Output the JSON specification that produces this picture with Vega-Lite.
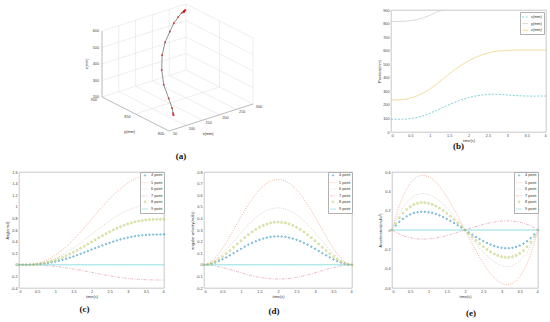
{
"$schema":"https://vega.github.io/schema/vega-lite/v6.json",
"padding":{"left":5,"top":3,"right":0,"bottom":0},
"background":"white",
"spacing":8,
"resolve":{"scale":{"color":"independent","shape":"independent","strokeDash":"independent","size":"independent"}},
"config":{
 "font":"Liberation Sans",
 "view":{"stroke":"#b0b0b0","strokeWidth":0.7},
 "axis":{"grid":false,"ticks":false,"domain":false,"labelFontSize":3.8,"labelColor":"#444","labelPadding":2,"titleFontSize":3.9,"titleFontWeight":"normal","titleColor":"#333","titlePadding":1},
 "axisX":{"labelPadding":1.5},
 "legend":{"labelFontSize":3.8,"labelColor":"#333","padding":1.5,"rowPadding":0.6,"strokeColor":"#b0b0b0","fillColor":"white","symbolStrokeWidth":0.8,"labelOffset":2.5,"symbolSize":36,"symbolType":"stroke","offset":0},
 "title":{"font":"Liberation Serif","fontSize":9,"fontWeight":"bold","color":"#111"}
},
"datasets":{
"pos":[
{"t":0,"x":94,"y":815,"z":236},{"t":0.2,"x":94,"y":816,"z":237},{"t":0.4,"x":96,"y":818,"z":243},{"t":0.6,"x":103,"y":825,"z":258},{"t":0.8,"x":117,"y":840,"z":283},{"t":1,"x":138,"y":860,"z":316},{"t":1.2,"x":162,"y":888,"z":358},{"t":1.4,"x":189,"y":905,"z":404},{"t":1.6,"x":214,"y":910,"z":450},{"t":1.8,"x":236,"y":912,"z":491},{"t":2,"x":254,"y":912,"z":525},{"t":2.2,"x":267,"y":912,"z":553},{"t":2.4,"x":275,"y":912,"z":574},{"t":2.6,"x":279,"y":912,"z":590},{"t":2.8,"x":278,"y":912,"z":599},{"t":3,"x":273,"y":912,"z":603},{"t":3.2,"x":269,"y":912,"z":604},{"t":3.4,"x":266,"y":912,"z":604},{"t":3.6,"x":265,"y":912,"z":604},{"t":3.8,"x":265,"y":912,"z":604},{"t":4,"x":265,"y":912,"z":604}
],
"traj3d":[
{"t":0,"x":94,"y":815,"z":236},{"t":0.2,"x":94,"y":816,"z":237},{"t":0.4,"x":96,"y":817,"z":243},{"t":0.6,"x":103,"y":822,"z":258},{"t":0.8,"x":117,"y":834,"z":283},{"t":1,"x":138,"y":852,"z":316},{"t":1.2,"x":162,"y":867,"z":358},{"t":1.4,"x":189,"y":880,"z":404},{"t":1.6,"x":214,"y":888,"z":450},{"t":1.8,"x":236,"y":892,"z":491},{"t":2,"x":254,"y":895,"z":525},{"t":2.2,"x":267,"y":895,"z":553},{"t":2.4,"x":275,"y":894,"z":574},{"t":2.6,"x":279,"y":892,"z":590},{"t":2.8,"x":278,"y":890,"z":599},{"t":3,"x":273,"y":888,"z":603},{"t":3.2,"x":269,"y":887,"z":604},{"t":3.4,"x":266,"y":886,"z":604},{"t":3.6,"x":265,"y":886,"z":604},{"t":3.8,"x":265,"y":886,"z":604},{"t":4,"x":265,"y":886,"z":604}
],
"box3d":[
{"k":"g","x1":100,"y1":800,"z1":200,"x2":100,"y2":900,"z2":200},
{"k":"g","x1":150,"y1":800,"z1":200,"x2":150,"y2":900,"z2":200},
{"k":"g","x1":200,"y1":800,"z1":200,"x2":200,"y2":900,"z2":200},
{"k":"g","x1":250,"y1":800,"z1":200,"x2":250,"y2":900,"z2":200},
{"k":"g","x1":300,"y1":800,"z1":200,"x2":300,"y2":900,"z2":200},
{"k":"g","x1":50,"y1":850,"z1":200,"x2":300,"y2":850,"z2":200},
{"k":"g","x1":50,"y1":900,"z1":200,"x2":300,"y2":900,"z2":200},
{"k":"g","x1":100,"y1":900,"z1":200,"x2":100,"y2":900,"z2":600},
{"k":"g","x1":150,"y1":900,"z1":200,"x2":150,"y2":900,"z2":600},
{"k":"g","x1":200,"y1":900,"z1":200,"x2":200,"y2":900,"z2":600},
{"k":"g","x1":250,"y1":900,"z1":200,"x2":250,"y2":900,"z2":600},
{"k":"g","x1":300,"y1":900,"z1":200,"x2":300,"y2":900,"z2":600},
{"k":"g","x1":50,"y1":900,"z1":300,"x2":300,"y2":900,"z2":300},
{"k":"g","x1":50,"y1":900,"z1":400,"x2":300,"y2":900,"z2":400},
{"k":"g","x1":50,"y1":900,"z1":500,"x2":300,"y2":900,"z2":500},
{"k":"g","x1":50,"y1":900,"z1":600,"x2":300,"y2":900,"z2":600},
{"k":"g","x1":300,"y1":800,"z1":200,"x2":300,"y2":800,"z2":600},
{"k":"g","x1":300,"y1":850,"z1":200,"x2":300,"y2":850,"z2":600},
{"k":"g","x1":300,"y1":800,"z1":300,"x2":300,"y2":900,"z2":300},
{"k":"g","x1":300,"y1":800,"z1":400,"x2":300,"y2":900,"z2":400},
{"k":"g","x1":300,"y1":800,"z1":500,"x2":300,"y2":900,"z2":500},
{"k":"g","x1":300,"y1":800,"z1":600,"x2":300,"y2":900,"z2":600},
{"k":"a","x1":50,"y1":800,"z1":200,"x2":300,"y2":800,"z2":200},
{"k":"a","x1":50,"y1":800,"z1":200,"x2":50,"y2":900,"z2":200},
{"k":"a","x1":50,"y1":900,"z1":200,"x2":50,"y2":900,"z2":600}
],
"labels3d":[
{"k":"lz","x1":50,"y1":900,"z1":200,"lab":"200"},
{"k":"lz","x1":50,"y1":900,"z1":300,"lab":"300"},
{"k":"lz","x1":50,"y1":900,"z1":400,"lab":"400"},
{"k":"lz","x1":50,"y1":900,"z1":500,"lab":"500"},
{"k":"lz","x1":50,"y1":900,"z1":600,"lab":"600"},
{"k":"ly","x1":50,"y1":800,"z1":200,"lab":"800"},
{"k":"ly","x1":50,"y1":850,"z1":200,"lab":"850"},
{"k":"ly","x1":50,"y1":900,"z1":200,"lab":"900"},
{"k":"lx","x1":50,"y1":800,"z1":200,"lab":"50"},
{"k":"lx","x1":100,"y1":800,"z1":200,"lab":"100"},
{"k":"lx","x1":150,"y1":800,"z1":200,"lab":"150"},
{"k":"lx","x1":200,"y1":800,"z1":200,"lab":"200"},
{"k":"lx","x1":250,"y1":800,"z1":200,"lab":"250"},
{"k":"lx","x1":300,"y1":800,"z1":200,"lab":"300"},
{"k":"tz","x1":50,"y1":900,"z1":400,"lab":"z(mm)"},
{"k":"ty","x1":50,"y1":850,"z1":200,"lab":"y(mm)"},
{"k":"tx","x1":175,"y1":800,"z1":200,"lab":"x(mm)"}
],
"joint":[
{"t":0,"a4":0,"a5":0,"a6":0,"a7":0,"a8":0,"a9":0,"v4":0,"v5":0,"v6":0,"v7":0,"v8":0,"v9":0,"c4":0,"c5":0,"c6":0,"c7":0,"c8":0,"c9":0},
{"t":0.1,"a4":0.0001,"a5":0.0002,"a6":0.0002,"a7":0,"a8":0.0001,"a9":0,"v4":0.0023,"v5":0.007,"v6":0.0047,"v7":-0.0012,"v8":0.0035,"v9":0,"c4":0.0455,"c5":0.1364,"c6":0.0909,"c7":-0.0227,"c8":0.0682,"c9":0},
{"t":0.2,"a4":0.0006,"a5":0.0018,"a6":0.0012,"a7":-0.0003,"a8":0.0009,"a9":0,"v4":0.0089,"v5":0.0266,"v6":0.0177,"v7":-0.0044,"v8":0.0133,"v9":0,"c4":0.0839,"c5":0.2518,"c6":0.1679,"c7":-0.042,"c8":0.1259,"c9":0},
{"t":0.3,"a4":0.002,"a5":0.0059,"a6":0.0039,"a7":-0.001,"a8":0.003,"a9":0,"v4":0.0189,"v5":0.0567,"v6":0.0378,"v7":-0.0095,"v8":0.0284,"v9":0,"c4":0.1158,"c5":0.3474,"c6":0.2316,"c7":-0.0579,"c8":0.1737,"c9":0},
{"t":0.4,"a4":0.0045,"a5":0.0134,"a6":0.009,"a7":-0.0022,"a8":0.0067,"a9":0,"v4":0.0318,"v5":0.0954,"v6":0.0636,"v7":-0.0159,"v8":0.0477,"v9":0,"c4":0.1414,"c5":0.4241,"c6":0.2827,"c7":-0.0707,"c8":0.2121,"c9":0},
{"t":0.5,"a4":0.0084,"a5":0.0252,"a6":0.0168,"a7":-0.0042,"a8":0.0126,"a9":0,"v4":0.047,"v5":0.1409,"v6":0.094,"v7":-0.0235,"v8":0.0705,"v9":0,"c4":0.1611,"c5":0.4832,"c6":0.3221,"c7":-0.0805,"c8":0.2416,"c9":0},
{"t":0.6,"a4":0.0139,"a5":0.0418,"a6":0.0279,"a7":-0.007,"a8":0.0209,"a9":0,"v4":0.0638,"v5":0.1915,"v6":0.1277,"v7":-0.0319,"v8":0.0958,"v9":0,"c4":0.1752,"c5":0.5257,"c6":0.3505,"c7":-0.0876,"c8":0.2629,"c9":0},
{"t":0.7,"a4":0.0212,"a5":0.0636,"a6":0.0424,"a7":-0.0106,"a8":0.0318,"a9":0,"v4":0.0819,"v5":0.2456,"v6":0.1637,"v7":-0.0409,"v8":0.1228,"v9":0,"c4":0.1843,"c5":0.5528,"c6":0.3685,"c7":-0.0921,"c8":0.2764,"c9":0},
{"t":0.8,"a4":0.0303,"a5":0.091,"a6":0.0607,"a7":-0.0152,"a8":0.0455,"a9":0,"v4":0.1005,"v5":0.3016,"v6":0.2011,"v7":-0.0503,"v8":0.1508,"v9":0,"c4":0.1885,"c5":0.5655,"c6":0.377,"c7":-0.0942,"c8":0.2827,"c9":0},
{"t":0.9,"a4":0.0413,"a5":0.124,"a6":0.0826,"a7":-0.0207,"a8":0.062,"a9":0,"v4":0.1194,"v5":0.3582,"v6":0.2388,"v7":-0.0597,"v8":0.1791,"v9":0,"c4":0.1883,"c5":0.5649,"c6":0.3766,"c7":-0.0942,"c8":0.2825,"c9":0},
{"t":1,"a4":0.0542,"a5":0.1626,"a6":0.1084,"a7":-0.0271,"a8":0.0813,"a9":0,"v4":0.1381,"v5":0.4142,"v6":0.2761,"v7":-0.069,"v8":0.2071,"v9":0,"c4":0.1841,"c5":0.5522,"c6":0.3682,"c7":-0.092,"c8":0.2761,"c9":0},
{"t":1.1,"a4":0.0689,"a5":0.2067,"a6":0.1378,"a7":-0.0345,"a8":0.1034,"a9":0,"v4":0.1561,"v5":0.4683,"v6":0.3122,"v7":-0.0781,"v8":0.2342,"v9":0,"c4":0.1762,"c5":0.5285,"c6":0.3523,"c7":-0.0881,"c8":0.2642,"c9":0},
{"t":1.2,"a4":0.0854,"a5":0.2562,"a6":0.1708,"a7":-0.0427,"a8":0.1281,"a9":0,"v4":0.1732,"v5":0.5195,"v6":0.3464,"v7":-0.0866,"v8":0.2598,"v9":0,"c4":0.1649,"c5":0.4948,"c6":0.3299,"c7":-0.0825,"c8":0.2474,"c9":0},
{"t":1.3,"a4":0.1035,"a5":0.3105,"a6":0.207,"a7":-0.0518,"a8":0.1553,"a9":0,"v4":0.189,"v5":0.567,"v6":0.378,"v7":-0.0945,"v8":0.2835,"v9":0,"c4":0.1508,"c5":0.4523,"c6":0.3015,"c7":-0.0754,"c8":0.2261,"c9":0},
{"t":1.4,"a4":0.1231,"a5":0.3694,"a6":0.2463,"a7":-0.0616,"a8":0.1847,"a9":0,"v4":0.2032,"v5":0.6097,"v6":0.4065,"v7":-0.1016,"v8":0.3049,"v9":0,"c4":0.134,"c5":0.402,"c6":0.268,"c7":-0.067,"c8":0.201,"c9":0},
{"t":1.5,"a4":0.1441,"a5":0.4323,"a6":0.2882,"a7":-0.072,"a8":0.2161,"a9":0,"v4":0.2157,"v5":0.6471,"v6":0.4314,"v7":-0.1079,"v8":0.3236,"v9":0,"c4":0.115,"c5":0.3451,"c6":0.2301,"c7":-0.0575,"c8":0.1726,"c9":0},
{"t":1.6,"a4":0.1662,"a5":0.4986,"a6":0.3324,"a7":-0.0831,"a8":0.2493,"a9":0,"v4":0.2262,"v5":0.6786,"v6":0.4524,"v7":-0.1131,"v8":0.3393,"v9":0,"c4":0.0942,"c5":0.2827,"c6":0.1885,"c7":-0.0471,"c8":0.1414,"c9":0},
{"t":1.7,"a4":0.1893,"a5":0.5678,"a6":0.3785,"a7":-0.0946,"a8":0.2839,"a9":0,"v4":0.2345,"v5":0.7036,"v6":0.469,"v7":-0.1173,"v8":0.3518,"v9":0,"c4":0.072,"c5":0.2159,"c6":0.144,"c7":-0.036,"c8":0.108,"c9":0},
{"t":1.8,"a4":0.213,"a5":0.6391,"a6":0.4261,"a7":-0.1065,"a8":0.3196,"a9":0,"v4":0.2406,"v5":0.7217,"v6":0.4811,"v7":-0.1203,"v8":0.3608,"v9":0,"c4":0.0486,"c5":0.1458,"c6":0.0972,"c7":-0.0243,"c8":0.0729,"c9":0},
{"t":1.9,"a4":0.2373,"a5":0.7119,"a6":0.4746,"a7":-0.1186,"a8":0.356,"a9":0,"v4":0.2442,"v5":0.7326,"v6":0.4884,"v7":-0.1221,"v8":0.3663,"v9":0,"c4":0.0245,"c5":0.0734,"c6":0.049,"c7":-0.0122,"c8":0.0367,"c9":0},
{"t":2,"a4":0.2618,"a5":0.7854,"a6":0.5236,"a7":-0.1309,"a8":0.3927,"a9":0,"v4":0.2454,"v5":0.7363,"v6":0.4909,"v7":-0.1227,"v8":0.3682,"v9":0,"c4":0,"c5":0,"c6":0,"c7":0,"c8":0,"c9":0},
{"t":2.1,"a4":0.2863,"a5":0.8589,"a6":0.5726,"a7":-0.1432,"a8":0.4294,"a9":0,"v4":0.2442,"v5":0.7326,"v6":0.4884,"v7":-0.1221,"v8":0.3663,"v9":0,"c4":-0.0245,"c5":-0.0734,"c6":-0.049,"c7":0.0122,"c8":-0.0367,"c9":0},
{"t":2.2,"a4":0.3106,"a5":0.9317,"a6":0.6211,"a7":-0.1553,"a8":0.4658,"a9":0,"v4":0.2406,"v5":0.7217,"v6":0.4811,"v7":-0.1203,"v8":0.3608,"v9":0,"c4":-0.0486,"c5":-0.1458,"c6":-0.0972,"c7":0.0243,"c8":-0.0729,"c9":0},
{"t":2.3,"a4":0.3343,"a5":1.003,"a6":0.6687,"a7":-0.1672,"a8":0.5015,"a9":0,"v4":0.2345,"v5":0.7036,"v6":0.469,"v7":-0.1173,"v8":0.3518,"v9":0,"c4":-0.072,"c5":-0.2159,"c6":-0.144,"c7":0.036,"c8":-0.108,"c9":0},
{"t":2.4,"a4":0.3574,"a5":1.0722,"a6":0.7148,"a7":-0.1787,"a8":0.5361,"a9":0,"v4":0.2262,"v5":0.6786,"v6":0.4524,"v7":-0.1131,"v8":0.3393,"v9":0,"c4":-0.0942,"c5":-0.2827,"c6":-0.1885,"c7":0.0471,"c8":-0.1414,"c9":0},
{"t":2.5,"a4":0.3795,"a5":1.1385,"a6":0.759,"a7":-0.1898,"a8":0.5693,"a9":0,"v4":0.2157,"v5":0.6471,"v6":0.4314,"v7":-0.1079,"v8":0.3236,"v9":0,"c4":-0.115,"c5":-0.3451,"c6":-0.2301,"c7":0.0575,"c8":-0.1726,"c9":0},
{"t":2.6,"a4":0.4005,"a5":1.2014,"a6":0.8009,"a7":-0.2002,"a8":0.6007,"a9":0,"v4":0.2032,"v5":0.6097,"v6":0.4065,"v7":-0.1016,"v8":0.3049,"v9":0,"c4":-0.134,"c5":-0.402,"c6":-0.268,"c7":0.067,"c8":-0.201,"c9":0},
{"t":2.7,"a4":0.4201,"a5":1.2603,"a6":0.8402,"a7":-0.21,"a8":0.6302,"a9":0,"v4":0.189,"v5":0.567,"v6":0.378,"v7":-0.0945,"v8":0.2835,"v9":0,"c4":-0.1508,"c5":-0.4523,"c6":-0.3015,"c7":0.0754,"c8":-0.2261,"c9":0},
{"t":2.8,"a4":0.4382,"a5":1.3146,"a6":0.8764,"a7":-0.2191,"a8":0.6573,"a9":0,"v4":0.1732,"v5":0.5195,"v6":0.3464,"v7":-0.0866,"v8":0.2598,"v9":0,"c4":-0.1649,"c5":-0.4948,"c6":-0.3299,"c7":0.0825,"c8":-0.2474,"c9":0},
{"t":2.9,"a4":0.4547,"a5":1.3641,"a6":0.9094,"a7":-0.2274,"a8":0.6821,"a9":0,"v4":0.1561,"v5":0.4683,"v6":0.3122,"v7":-0.0781,"v8":0.2342,"v9":0,"c4":-0.1762,"c5":-0.5285,"c6":-0.3523,"c7":0.0881,"c8":-0.2642,"c9":0},
{"t":3,"a4":0.4694,"a5":1.4082,"a6":0.9388,"a7":-0.2347,"a8":0.7041,"a9":0,"v4":0.1381,"v5":0.4142,"v6":0.2761,"v7":-0.069,"v8":0.2071,"v9":0,"c4":-0.1841,"c5":-0.5522,"c6":-0.3682,"c7":0.092,"c8":-0.2761,"c9":0},
{"t":3.1,"a4":0.4823,"a5":1.4468,"a6":0.9646,"a7":-0.2411,"a8":0.7234,"a9":0,"v4":0.1194,"v5":0.3582,"v6":0.2388,"v7":-0.0597,"v8":0.1791,"v9":0,"c4":-0.1883,"c5":-0.5649,"c6":-0.3766,"c7":0.0942,"c8":-0.2825,"c9":0},
{"t":3.2,"a4":0.4933,"a5":1.4798,"a6":0.9866,"a7":-0.2467,"a8":0.7399,"a9":0,"v4":0.1005,"v5":0.3016,"v6":0.2011,"v7":-0.0503,"v8":0.1508,"v9":0,"c4":-0.1885,"c5":-0.5655,"c6":-0.377,"c7":0.0942,"c8":-0.2827,"c9":0},
{"t":3.3,"a4":0.5024,"a5":1.5072,"a6":1.0048,"a7":-0.2512,"a8":0.7536,"a9":0,"v4":0.0819,"v5":0.2456,"v6":0.1637,"v7":-0.0409,"v8":0.1228,"v9":0,"c4":-0.1843,"c5":-0.5528,"c6":-0.3685,"c7":0.0921,"c8":-0.2764,"c9":0},
{"t":3.4,"a4":0.5097,"a5":1.529,"a6":1.0194,"a7":-0.2548,"a8":0.7645,"a9":0,"v4":0.0638,"v5":0.1915,"v6":0.1277,"v7":-0.0319,"v8":0.0958,"v9":0,"c4":-0.1752,"c5":-0.5257,"c6":-0.3505,"c7":0.0876,"c8":-0.2629,"c9":0},
{"t":3.5,"a4":0.5152,"a5":1.5456,"a6":1.0304,"a7":-0.2576,"a8":0.7728,"a9":0,"v4":0.047,"v5":0.1409,"v6":0.094,"v7":-0.0235,"v8":0.0705,"v9":0,"c4":-0.1611,"c5":-0.4832,"c6":-0.3221,"c7":0.0805,"c8":-0.2416,"c9":0},
{"t":3.6,"a4":0.5191,"a5":1.5573,"a6":1.0382,"a7":-0.2596,"a8":0.7787,"a9":0,"v4":0.0318,"v5":0.0954,"v6":0.0636,"v7":-0.0159,"v8":0.0477,"v9":0,"c4":-0.1414,"c5":-0.4241,"c6":-0.2827,"c7":0.0707,"c8":-0.2121,"c9":0},
{"t":3.7,"a4":0.5216,"a5":1.5648,"a6":1.0432,"a7":-0.2608,"a8":0.7824,"a9":0,"v4":0.0189,"v5":0.0567,"v6":0.0378,"v7":-0.0095,"v8":0.0284,"v9":0,"c4":-0.1158,"c5":-0.3474,"c6":-0.2316,"c7":0.0579,"c8":-0.1737,"c9":0},
{"t":3.8,"a4":0.523,"a5":1.569,"a6":1.046,"a7":-0.2615,"a8":0.7845,"a9":0,"v4":0.0089,"v5":0.0266,"v6":0.0177,"v7":-0.0044,"v8":0.0133,"v9":0,"c4":-0.0839,"c5":-0.2518,"c6":-0.1679,"c7":0.042,"c8":-0.1259,"c9":0},
{"t":3.9,"a4":0.5235,"a5":1.5705,"a6":1.047,"a7":-0.2618,"a8":0.7853,"a9":0,"v4":0.0023,"v5":0.007,"v6":0.0047,"v7":-0.0012,"v8":0.0035,"v9":0,"c4":-0.0455,"c5":-0.1364,"c6":-0.0909,"c7":0.0227,"c8":-0.0682,"c9":0},
{"t":4,"a4":0.5236,"a5":1.5708,"a6":1.0472,"a7":-0.2618,"a8":0.7854,"a9":0,"v4":0,"v5":0,"v6":0,"v7":0,"v8":0,"v9":0,"c4":0,"c5":0,"c6":0,"c7":0,"c8":0,"c9":0}
]
},
"vconcat":[
{
"hconcat":[
{
 "width":332,"height":122,
 "view":{"stroke":null},
 "title":{"text":"(a)","orient":"bottom","frame":"group","dx":-4,"offset":16},
 "layer":[
  {"data":{"name":"box3d"},"transform":[{"filter":"datum.k=='g'"},
    {"calculate":"(datum.x1-50)*0.336-(datum.y1-800)*0.67","as":"u1"},
    {"calculate":"(datum.x1-50)*0.108+(datum.y1-800)*0.34+(datum.z1-200)*0.165","as":"v1"},
    {"calculate":"(datum.x2-50)*0.336-(datum.y2-800)*0.67","as":"u2"},
    {"calculate":"(datum.x2-50)*0.108+(datum.y2-800)*0.34+(datum.z2-200)*0.165","as":"v2"}],
   "mark":{"type":"rule","color":"#e2e2e2","strokeWidth":0.6},
   "encoding":{"x":{"field":"u1","type":"quantitative","scale":{"domain":[-150,182],"nice":false,"zero":false},"axis":null},
    "y":{"field":"v1","type":"quantitative","scale":{"domain":[-1,121],"nice":false,"zero":false},"axis":null},
    "x2":{"field":"u2"},"y2":{"field":"v2"}}},
  {"data":{"name":"box3d"},"transform":[{"filter":"datum.k=='a'"},
    {"calculate":"(datum.x1-50)*0.336-(datum.y1-800)*0.67","as":"u1"},
    {"calculate":"(datum.x1-50)*0.108+(datum.y1-800)*0.34+(datum.z1-200)*0.165","as":"v1"},
    {"calculate":"(datum.x2-50)*0.336-(datum.y2-800)*0.67","as":"u2"},
    {"calculate":"(datum.x2-50)*0.108+(datum.y2-800)*0.34+(datum.z2-200)*0.165","as":"v2"}],
   "mark":{"type":"rule","color":"#8c8c8c","strokeWidth":0.6},
   "encoding":{"x":{"field":"u1","type":"quantitative","scale":{"domain":[-150,182],"nice":false,"zero":false},"axis":null},
    "y":{"field":"v1","type":"quantitative","scale":{"domain":[-1,121],"nice":false,"zero":false},"axis":null},
    "x2":{"field":"u2"},"y2":{"field":"v2"}}},
  {"data":{"name":"labels3d"},"transform":[{"filter":"datum.k=='lz'"},
    {"calculate":"(datum.x1-50)*0.336-(datum.y1-800)*0.67","as":"u1"},
    {"calculate":"(datum.x1-50)*0.108+(datum.y1-800)*0.34+(datum.z1-200)*0.165","as":"v1"}],
   "mark":{"type":"text","align":"right","baseline":"middle","dx":-3,"fontSize":3.8,"color":"#444"},
   "encoding":{"x":{"field":"u1","type":"quantitative"},"y":{"field":"v1","type":"quantitative"},"text":{"field":"lab"}}},
  {"data":{"name":"labels3d"},"transform":[{"filter":"datum.k=='ly'"},
    {"calculate":"(datum.x1-50)*0.336-(datum.y1-800)*0.67","as":"u1"},
    {"calculate":"(datum.x1-50)*0.108+(datum.y1-800)*0.34+(datum.z1-200)*0.165","as":"v1"}],
   "mark":{"type":"text","align":"center","baseline":"middle","dx":-8,"dy":3,"fontSize":3.8,"color":"#444"},
   "encoding":{"x":{"field":"u1","type":"quantitative"},"y":{"field":"v1","type":"quantitative"},"text":{"field":"lab"}}},
  {"data":{"name":"labels3d"},"transform":[{"filter":"datum.k=='lx'"},
    {"calculate":"(datum.x1-50)*0.336-(datum.y1-800)*0.67","as":"u1"},
    {"calculate":"(datum.x1-50)*0.108+(datum.y1-800)*0.34+(datum.z1-200)*0.165","as":"v1"}],
   "mark":{"type":"text","align":"center","baseline":"middle","dx":6,"dy":3,"fontSize":3.8,"color":"#444"},
   "encoding":{"x":{"field":"u1","type":"quantitative"},"y":{"field":"v1","type":"quantitative"},"text":{"field":"lab"}}},
  {"data":{"name":"labels3d"},"transform":[{"filter":"datum.k=='tz'"},
    {"calculate":"(datum.x1-50)*0.336-(datum.y1-800)*0.67","as":"u1"},
    {"calculate":"(datum.x1-50)*0.108+(datum.y1-800)*0.34+(datum.z1-200)*0.165","as":"v1"}],
   "mark":{"type":"text","align":"center","baseline":"middle","angle":270,"dy":-15,"fontSize":3.9,"color":"#333"},
   "encoding":{"x":{"field":"u1","type":"quantitative"},"y":{"field":"v1","type":"quantitative"},"text":{"field":"lab"}}},
  {"data":{"name":"labels3d"},"transform":[{"filter":"datum.k=='ty'"},
    {"calculate":"(datum.x1-50)*0.336-(datum.y1-800)*0.67","as":"u1"},
    {"calculate":"(datum.x1-50)*0.108+(datum.y1-800)*0.34+(datum.z1-200)*0.165","as":"v1"}],
   "mark":{"type":"text","align":"center","baseline":"middle","dx":-6,"dy":18,"fontSize":3.9,"color":"#333"},
   "encoding":{"x":{"field":"u1","type":"quantitative"},"y":{"field":"v1","type":"quantitative"},"text":{"field":"lab"}}},
  {"data":{"name":"labels3d"},"transform":[{"filter":"datum.k=='tx'"},
    {"calculate":"(datum.x1-50)*0.336-(datum.y1-800)*0.67","as":"u1"},
    {"calculate":"(datum.x1-50)*0.108+(datum.y1-800)*0.34+(datum.z1-200)*0.165","as":"v1"}],
   "mark":{"type":"text","align":"center","baseline":"middle","dx":-3,"dy":16,"fontSize":3.9,"color":"#333"},
   "encoding":{"x":{"field":"u1","type":"quantitative"},"y":{"field":"v1","type":"quantitative"},"text":{"field":"lab"}}},
  {"data":{"name":"traj3d"},"transform":[{"calculate":"(datum.x-50)*0.336-(datum.y-800)*0.67","as":"u1"},{"calculate":"(datum.x-50)*0.108+(datum.y-800)*0.34+(datum.z-200)*0.165","as":"v1"}],
   "mark":{"type":"line","color":"#444","strokeWidth":0.6},
   "encoding":{"x":{"field":"u1","type":"quantitative"},"y":{"field":"v1","type":"quantitative"},"order":{"field":"t","type":"quantitative"}}},
  {"data":{"name":"traj3d"},"transform":[{"calculate":"(datum.x-50)*0.336-(datum.y-800)*0.67","as":"u1"},{"calculate":"(datum.x-50)*0.108+(datum.y-800)*0.34+(datum.z-200)*0.165","as":"v1"}],
   "mark":{"type":"square","color":"#d01515","size":3},
   "encoding":{"x":{"field":"u1","type":"quantitative"},"y":{"field":"v1","type":"quantitative"}}}
 ]
},
{
 "width":155,"height":122,
 "title":{"text":"(b)","orient":"bottom","frame":"group","dx":-10,"offset":0},
 "data":{"name":"pos"},
 "transform":[{"fold":["x","y","z"],"as":["coord","mm"]}],
 "mark":{"type":"line","strokeWidth":0.8,"clip":true},
 "encoding":{
  "x":{"field":"t","type":"quantitative","scale":{"domain":[0,4],"nice":false},"axis":{"values":[0,0.5,1,1.5,2,2.5,3,3.5,4],"title":"time(s)","labelExpr":"''+datum.value"}},
  "y":{"field":"mm","type":"quantitative","scale":{"domain":[0,900],"nice":false},"axis":{"values":[0,100,200,300,400,500,600,700,800,900],"title":"Position(mm)"}},
  "color":{"field":"coord","type":"nominal","scale":{"domain":["x","y","z"],"range":["#5fc4d0","#d6caca","#efd17a"]},
   "legend":{"title":null,"orient":"top-right","offset":2,"labelExpr":"datum.label+'(mm)'"}},
  "strokeDash":{"field":"coord","type":"nominal","scale":{"domain":["x","y","z"],"range":[[2,1.5],[1,0],[1,0]]},
   "legend":{"title":null,"orient":"top-right","offset":2,"labelExpr":"datum.label+'(mm)'"}}
 }
}
],
"spacing":40,
"bounds":"flush",
"resolve":{"scale":{"color":"independent","strokeDash":"independent"}}
},
{
"hconcat":[
{
 "width":145,"height":116,
 "title":{"text":"(c)","orient":"bottom","frame":"group","dx":-7,"offset":7},
 "data":{"name":"joint"},
 "transform":[{"fold":["a4","a5","a6","a7","a8","a9"],"as":["j","val"]}],
 "encoding":{
  "x":{"field":"t","type":"quantitative","scale":{"domain":[0,4],"nice":false},"axis":{"values":[0,0.5,1,1.5,2,2.5,3,3.5,4],"title":"time(s)","labelExpr":"''+datum.value"}},
  "y":{"field":"val","type":"quantitative","scale":{"domain":[-0.4,1.6],"nice":false,"zero":false},"axis":{"values":[-0.4,-0.2,0,0.2,0.4,0.6,0.8,1,1.2,1.4,1.6],"title":"Angle(rad)","labelExpr":"''+datum.value"}},
  "color":{"field":"j","type":"nominal","scale":{"domain":["a4","a5","a6","a7","a8","a9"],"range":["#1c8dc0","#eaa286","#d9c6c6","#e6a8b4","#c4cf72","#72d6dc"]},
   "legend":{"title":null,"orient":"top-right","labelExpr":"slice(datum.label,1)+' point'"}}
 },
 "layer":[
  {"transform":[{"filter":"datum.j!='a4'&&datum.j!='a8'"}],"mark":{"type":"line","strokeWidth":0.8},
   "encoding":{"strokeDash":{"field":"j","type":"nominal","scale":{"domain":["a4","a5","a6","a7","a8","a9"],"range":[[1,0],[1,1.3],[1,1.3],[3,1.3,1,1.3],[1,0],[1,0]]},"legend":{"title":null,"orient":"top-right","labelExpr":"slice(datum.label,1)+' point'"}}}},
  {"transform":[{"filter":"datum.j=='a4'||datum.j=='a8'"}],"mark":{"type":"point","filled":false,"strokeWidth":1},
   "encoding":{"shape":{"field":"j","type":"nominal","scale":{"domain":["a4","a5","a6","a7","a8","a9"],"range":["circle","stroke","stroke","stroke","cross","stroke"]},"legend":{"title":null,"orient":"top-right","labelExpr":"slice(datum.label,1)+' point'"}},
    "size":{"field":"j","type":"nominal","scale":{"type":"ordinal","domain":["a4","a5","a6","a7","a8","a9"],"range":[2,36,36,36,4,36]},"legend":{"title":null,"orient":"top-right","labelExpr":"slice(datum.label,1)+' point'"}}}}
 ]
},
{
 "width":148,"height":116,
 "title":{"text":"(d)","orient":"bottom","frame":"group","dx":-4,"offset":9},
 "data":{"name":"joint"},
 "transform":[{"fold":["v4","v5","v6","v7","v8","v9"],"as":["j","val"]}],
 "encoding":{
  "x":{"field":"t","type":"quantitative","scale":{"domain":[0,4],"nice":false},"axis":{"values":[0,0.5,1,1.5,2,2.5,3,3.5,4],"title":"time(s)","labelExpr":"''+datum.value"}},
  "y":{"field":"val","type":"quantitative","scale":{"domain":[-0.2,0.8],"nice":false,"zero":false},"axis":{"values":[-0.2,-0.1,0,0.1,0.2,0.3,0.4,0.5,0.6,0.7,0.8],"title":"angular velocity(rad/s)","labelExpr":"''+datum.value"}},
  "color":{"field":"j","type":"nominal","scale":{"domain":["v4","v5","v6","v7","v8","v9"],"range":["#1c8dc0","#eaa286","#d9c6c6","#e6a8b4","#c4cf72","#72d6dc"]},
   "legend":{"title":null,"orient":"top-right","labelExpr":"slice(datum.label,1)+' point'"}}
 },
 "layer":[
  {"transform":[{"filter":"datum.j!='v4'&&datum.j!='v8'"}],"mark":{"type":"line","strokeWidth":0.8},
   "encoding":{"strokeDash":{"field":"j","type":"nominal","scale":{"domain":["v4","v5","v6","v7","v8","v9"],"range":[[1,0],[1,1.3],[1,1.3],[3,1.3,1,1.3],[1,0],[1,0]]},"legend":{"title":null,"orient":"top-right","labelExpr":"slice(datum.label,1)+' point'"}}}},
  {"transform":[{"filter":"datum.j=='v4'||datum.j=='v8'"}],"mark":{"type":"point","filled":false,"strokeWidth":1},
   "encoding":{"shape":{"field":"j","type":"nominal","scale":{"domain":["v4","v5","v6","v7","v8","v9"],"range":["circle","stroke","stroke","stroke","cross","stroke"]},"legend":{"title":null,"orient":"top-right","labelExpr":"slice(datum.label,1)+' point'"}},
    "size":{"field":"j","type":"nominal","scale":{"type":"ordinal","domain":["v4","v5","v6","v7","v8","v9"],"range":[2,36,36,36,4,36]},"legend":{"title":null,"orient":"top-right","labelExpr":"slice(datum.label,1)+' point'"}}}}
 ]
},
{
 "width":146,"height":116,
 "title":{"text":"(e)","orient":"bottom","frame":"group","dx":6,"offset":11},
 "data":{"name":"joint"},
 "transform":[{"fold":["c4","c5","c6","c7","c8","c9"],"as":["j","val"]}],
 "encoding":{
  "x":{"field":"t","type":"quantitative","scale":{"domain":[0,4],"nice":false},"axis":{"values":[0,0.5,1,1.5,2,2.5,3,3.5,4],"title":"time(s)","labelExpr":"''+datum.value"}},
  "y":{"field":"val","type":"quantitative","scale":{"domain":[-0.6,0.6],"nice":false,"zero":false},"axis":{"values":[-0.6,-0.4,-0.2,0,0.2,0.4,0.6],"title":"Acceleration(rad/s²)","labelExpr":"''+datum.value"}},
  "color":{"field":"j","type":"nominal","scale":{"domain":["c4","c5","c6","c7","c8","c9"],"range":["#1c8dc0","#eaa286","#d9c6c6","#e6a8b4","#c4cf72","#72d6dc"]},
   "legend":{"title":null,"orient":"top-right","labelExpr":"slice(datum.label,1)+' point'"}}
 },
 "layer":[
  {"transform":[{"filter":"datum.j!='c4'&&datum.j!='c8'"}],"mark":{"type":"line","strokeWidth":0.8},
   "encoding":{"strokeDash":{"field":"j","type":"nominal","scale":{"domain":["c4","c5","c6","c7","c8","c9"],"range":[[1,0],[1,1.3],[1,1.3],[3,1.3,1,1.3],[1,0],[1,0]]},"legend":{"title":null,"orient":"top-right","labelExpr":"slice(datum.label,1)+' point'"}}}},
  {"transform":[{"filter":"datum.j=='c4'||datum.j=='c8'"}],"mark":{"type":"point","filled":false,"strokeWidth":1},
   "encoding":{"shape":{"field":"j","type":"nominal","scale":{"domain":["c4","c5","c6","c7","c8","c9"],"range":["circle","stroke","stroke","stroke","cross","stroke"]},"legend":{"title":null,"orient":"top-right","labelExpr":"slice(datum.label,1)+' point'"}},
    "size":{"field":"j","type":"nominal","scale":{"type":"ordinal","domain":["c4","c5","c6","c7","c8","c9"],"range":[2,36,36,36,4,36]},"legend":{"title":null,"orient":"top-right","labelExpr":"slice(datum.label,1)+' point'"}}}}
 ]
}
],
"spacing":40,
"bounds":"flush",
"resolve":{"scale":{"color":"independent","shape":"independent","strokeDash":"independent","size":"independent"}}
}
]
}
